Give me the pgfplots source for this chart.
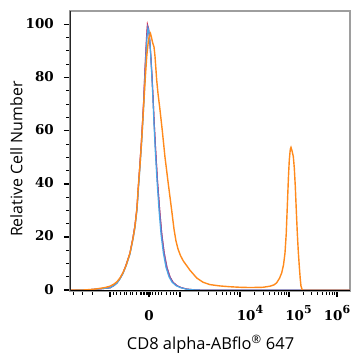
\documentclass[border=0pt]{standalone}
\usepackage{fontspec}
\usepackage{pgfplots}
\pgfplotsset{compat=1.18}
\setmainfont{Open Sans}
\newfontfamily\tickfont{DejaVu Serif}
\definecolor{cOrange}{HTML}{FF8A1C}
\definecolor{cBlue}{HTML}{4AA6E6}
\definecolor{cPurple}{HTML}{7E5FB0}
\definecolor{cRed}{HTML}{E0203A}
\newcommand{\tfont}{\tickfont\bfseries\fontsize{13.5}{15}\selectfont}
\newcommand{\tsup}[1]{\raisebox{7bp}{\tickfont\bfseries\fontsize{11}{12}\selectfont #1}}
\pgfplotstableread{
x y
70 0
85 0.1
95 0.4
100 0.7
105 1.0
110 1.5
114 2.3
117 3.2
120 4.6
123 6.6
126 9.2
130 14
133 19.5
135 24
137 31
138.3 39
140 47
141.7 56.6
143 65
144 71.6
145.5 81
146.7 87.8
148 92.5
149 95
150.5 96.5
151.5 95
152.7 93
154 91.5
155 88
156.7 79
158 74
160 67.8
162.3 60
165 50
168.3 40
171.7 30
174 23
176 18.5
178 15.5
180.5 13
183.3 11
190 7.5
196.7 4.6
203 3
210 2.1
220 1.6
230 1.3
240 1.1
250 1.0
263 1.1
270 1.5
274 2.0
276.7 2.8
279.5 4.5
281.7 6.5
283.5 9.5
285 14
286.2 21
287.3 31.5
288.5 43
289.3 49
290.3 53
291 53.7
292 52.5
293.3 50.3
294.3 46
295.3 39
296.3 30
297.3 21.5
298.3 14.5
299.3 9
300.2 4.5
301 1.5
302 0.4
302.7 0
350 0
}\orange
\pgfplotstableread{
x y
70 0
90 0.2
100 0.5
110 0.9
114 1.7
117 2.6
120 4.2
123 6.2
126 9
130 13.5
133 19
135 23.5
137 30
138.3 37
140 46
141.7 55.5
143 64
144 71
145 80
146 88
147 95
148 98.5
149 97
150 93
151 86
152 79
153 71
154 62
155.3 52
157 41
159 30
161 21
163.3 14
166 8.5
169 5
172 3
176 1.7
180 1.0
186 0.4
195 0.1
205 0
350 0
}\blue
\pgfplotstableread{
x y
70 0
90 0.2
100 0.5
110 0.9
114 1.8
117 2.8
120 4.4
123 6.5
126 9.4
130 14
133 19.8
135 24.5
137 31
138 37
139.7 46
141.4 55.5
142.7 64
143.7 71
144.7 80
145.7 88
146.7 95
147.6 99.3
148.7 98
149.8 94
150.9 88
152 81
153 73
154.2 63
155.6 53
157.5 41
159.7 30
161.8 21
164.2 14
167 8.5
170 5
173 3
177 1.7
181 1.0
187 0.4
196 0.1
205 0
350 0
}\purple
\pgfplotstableread{
x y
70 0
90 0.2
100 0.5
110 0.9
114 1.8
117 2.8
120 4.4
123 6.5
126 9.4
130 14
133 19.8
135 24.5
137 31
138 37
139.6 46
141.3 55.5
142.6 64
143.6 71
144.6 80
145.6 88
146.6 95.5
147.4 100
148.5 98.5
149.7 94
150.8 88
151.9 81
153 73
154.2 63
155.6 53
157.5 41
159.7 30
161.8 21
164.2 14
167 8.5
170 5
173 3
177 1.7
181 1.0
187 0.4
196 0.1
205 0
350 0
}\red
\begin{document}
\begin{tikzpicture}
\begin{axis}[
  scale only axis, width=280bp, height=280bp,
  xmin=70, xmax=350, ymin=-0.3, ymax=105,
  axis line style={draw=black!38, line width=1.1bp},
  xtick={110,149,180,240,289,337},
  xticklabels={,{\tfont 0},,{\hspace*{20bp}\tfont 10\tsup{4}},{\hspace*{19bp}\tfont 10\tsup{5}},{\tfont 10\tsup{6}}},
  minor xtick={73,82,92,113,116.7,120,124,126.7,130,132.7,136,140,141.5,143,144.5,146,147.5,150.5,152,155,158,161.7,166,170,173,176.7,
    198,208.6,216,222,226.7,230.7,234.2,237.3,
    254.8,263.4,269.5,274.3,278.1,281.4,284.2,286.7,
    303.4,311.9,317.9,322.6,326.4,329.6,332.4,334.8},
  ytick={0,20,40,60,80,100},
  yticklabels={{\tfont 0},{\tfont 20},{\tfont 40},{\tfont 60},{\tfont 80},{\tfont 100}},
  minor ytick={5,10,15,25,30,35,45,50,55,65,70,75,85,90,95},
  tick align=outside, xtick pos=bottom, ytick pos=left,
  major tick length=6bp, minor tick length=3.5bp,
  tick style={black, line width=0.9bp},
  major tick style={line width=1.5bp},
  xticklabel style={anchor=base, yshift=-23bp},
  yticklabel style={inner sep=0pt, xshift=-10bp, yshift=1bp},
  xlabel={CD8 alpha-ABflo\textsuperscript{®} 647},
  ylabel={Relative Cell Number},
  xlabel style={font=\fontsize{16.5}{18}\selectfont, at={(axis description cs:0.502,-0.209)}, anchor=base},
  ylabel style={font=\fontsize{16}{18}\selectfont, at={(axis description cs:-0.17,0.471)}, anchor=base},
  clip=true,
]
\addplot[cRed, line width=1.1bp] table[x=x,y=y] {\red};
\addplot[cPurple, line width=1.1bp] table[x=x,y=y] {\purple};
\addplot[cBlue, line width=1.1bp] table[x=x,y=y] {\blue};
\addplot[cOrange, line width=1.4bp] table[x=x,y=y] {\orange};
\draw[black, line width=2bp] (rel axis cs:0,0) -- (rel axis cs:1,0);
\draw[black!85, line width=1.5bp] (rel axis cs:0,0) -- (rel axis cs:0,1);
\coordinate (bl) at (rel axis cs:0,0);
\coordinate (tr) at (rel axis cs:1,1);
\end{axis}
\pgfresetboundingbox
\path[use as bounding box] ([shift={(-70bp,-67bp)}]bl) rectangle ([shift={(13bp,11bp)}]tr);
\end{tikzpicture}
\end{document}
